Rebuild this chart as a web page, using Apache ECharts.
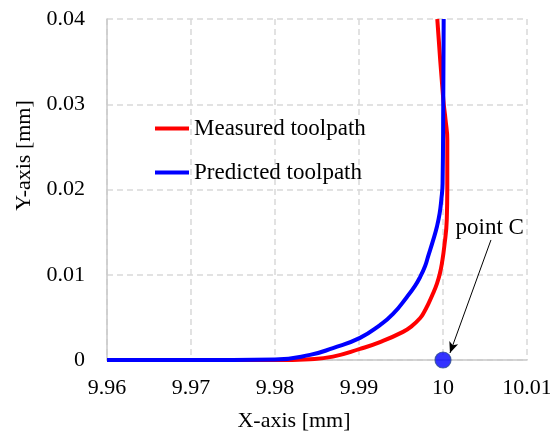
<!DOCTYPE html>
<html>
<head>
<meta charset="utf-8">
<script src="https://cdn.jsdelivr.net/npm/echarts@6/dist/echarts.min.js"></script>
<style>
html,body{margin:0;padding:0;background:#fff;}
#c{width:550px;height:436px;}
</style>
</head>
<body>
<div id="c"></div>
<script>
// Measured toolpath (red)
const measuredX = [9.96, 9.975, 9.98, 9.98417, 9.9869, 9.99012, 9.9925, 9.99524, 9.99631, 9.99726, 9.99774, 9.99821, 9.99881, 9.99929, 9.99964, 9.99988, 10.00015, 10.00045, 10.00051, 10.00051, 10.0003, 10.00004, 9.99932];
const measuredY = [0, 0, 0, 0.0001, 0.0004, 0.0013, 0.0021, 0.0033, 0.0040, 0.0049, 0.0056, 0.0065, 0.0078, 0.009, 0.0102, 0.0114, 0.0133, 0.0165, 0.0202, 0.0258, 0.0282, 0.0305, 0.040];
// Predicted toolpath (blue)
const predictedX = [9.96, 9.975, 9.98, 9.98417, 9.9869, 9.99012, 9.9925, 9.99405, 9.99571, 9.99667, 9.99726, 9.99786, 9.99821, 9.99881, 9.99929, 9.9996, 9.9998, 9.99995, 10.00003, 10.00008];
const predictedY = [0, 0, 0.00005, 0.0006, 0.0014, 0.0026, 0.0041, 0.0054, 0.0074, 0.0087, 0.0097, 0.0110, 0.0121, 0.0140, 0.0157, 0.0172, 0.0188, 0.0207, 0.0301, 0.040];
// Annotated point C
const pointC = [10.0, 0];
const pointCLabel = 'point C';
const labelPos = [10.00556, 0.0155];
const arrowStart = [10.00571, 0.01408];
const arrowEnd = [10.00083, 0.00082];

const seriesNames = ['Measured toolpath', 'Predicted toolpath'];
const FONT = '"Liberation Serif", "Times New Roman", serif';

const zip = (xs, ys) => xs.map((x, i) => [x, ys[i]]);

const chart = echarts.init(document.getElementById('c'), null, {renderer: 'canvas'});
chart.setOption({
  animation: false,
  backgroundColor: '#ffffff',
  textStyle: {fontFamily: FONT, color: '#000'},
  grid: {left: 107, right: 23, top: 19, bottom: 76, containLabel: false, outerBoundsMode: 'none'},
  legend: {
    orient: 'vertical',
    left: 155,
    top: 117,
    padding: 0,
    itemGap: 21,
    itemWidth: 34,
    itemHeight: 4,
    icon: 'rect',
    textStyle: {fontFamily: FONT, fontSize: 23, color: '#000'},
    data: seriesNames
  },
  xAxis: {
    type: 'value',
    min: 9.96, max: 10.01, interval: 0.01,
    name: 'X-axis [mm]',
    nameLocation: 'middle',
    nameGap: 50,
    nameTextStyle: {fontFamily: FONT, fontSize: 22, color: '#000', padding: [0, 46, 0, 0]},
    axisLine: {show: true, lineStyle: {color: '#c8c8c8', width: 1.5}},
    axisTick: {show: false},
    axisLabel: {fontFamily: FONT, fontSize: 22, color: '#000', margin: 17,
      formatter: v => String(parseFloat(v.toFixed(2)))},
    splitLine: {show: true, lineStyle: {color: '#d9d9d9', type: [6, 4], width: 1.5}}
  },
  yAxis: {
    type: 'value',
    min: 0, max: 0.04, interval: 0.01,
    name: 'Y-axis [mm]',
    nameLocation: 'middle',
    nameGap: 72,
    nameTextStyle: {fontFamily: FONT, fontSize: 22, color: '#000', padding: [0, 0, 0, 68]},
    axisLine: {show: true, lineStyle: {color: '#c8c8c8', width: 1.5}},
    axisTick: {show: false},
    axisLabel: {fontFamily: FONT, fontSize: 22, color: '#000', margin: 22,
      formatter: v => String(parseFloat(v.toFixed(2)))},
    splitLine: {show: true, lineStyle: {color: '#d9d9d9', type: [6, 4], width: 1.5}}
  },
  series: [
    {
      name: seriesNames[0], type: 'line', symbol: 'none', smooth: 0.5,
      data: zip(measuredX, measuredY),
      lineStyle: {color: '#ff0000', width: 4},
      itemStyle: {color: '#ff0000'},
      z: 2
    },
    {
      name: seriesNames[1], type: 'line', symbol: 'none', smooth: 0.5,
      data: zip(predictedX, predictedY),
      lineStyle: {color: '#0000ff', width: 4},
      itemStyle: {color: '#0000ff'},
      z: 3
    },
    {
      name: 'point C', type: 'scatter',
      data: [pointC],
      symbol: 'circle', symbolSize: 16,
      itemStyle: {color: '#0000ff', borderColor: '#2f4f8f', borderWidth: 1.2},
      z: 5,
      markLine: {
        silent: true,
        symbol: ['none', 'arrow'],
        symbolSize: [7, 11],
        lineStyle: {color: '#000', width: 1, type: 'solid'},
        label: {show: false},
        data: [[{coord: arrowStart}, {coord: arrowEnd}]]
      },
      markPoint: {
        silent: true,
        symbol: 'circle', symbolSize: 1,
        itemStyle: {color: 'rgba(0,0,0,0)'},
        label: {show: true, position: 'inside', formatter: pointCLabel,
          fontFamily: FONT, fontSize: 23, color: '#000'},
        data: [{coord: labelPos}]
      }
    }
  ]
});
</script>
</body>
</html>
